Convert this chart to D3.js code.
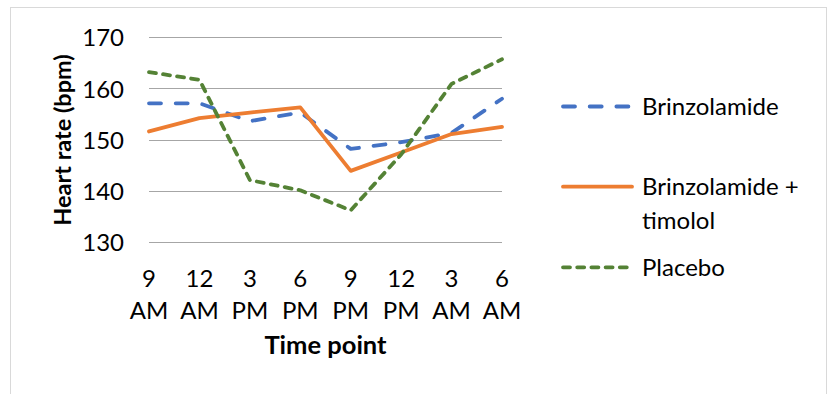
<!DOCTYPE html>
<html>
<head>
<meta charset="utf-8">
<script src="https://cdn.jsdelivr.net/npm/d3@7"></script>
<style>
  html, body { margin: 0; padding: 0; background: #fff; }
  svg { display: block; font-family: Lato, "Open Sans", sans-serif; }
</style>
</head>
<body>
<svg id="chart" width="832" height="394"></svg>
<script>
// Time points along the x axis (hour / period shown on two lines)
const timeHours   = ["9", "12", "3", "6", "9", "12", "3", "6"];
const timePeriods = ["AM", "AM", "PM", "PM", "PM", "PM", "AM", "AM"];
const categories  = timeHours.map((h, i) => h + " " + timePeriods[i]);

// Mean heart rate (bpm) per group
const brinzolamide = [157.1, 157.1, 153.6, 155.3, 148.2, 149.5, 151.3, 158.0];
const brinzTimolol = [151.6, 154.2, 155.3, 156.3, 143.9, 147.5, 151.1, 152.5];
const placebo      = [163.2, 161.7, 142.1, 140.1, 136.2, 147.1, 160.9, 165.7];

const yTicks = [130, 140, 150, 160, 170];

const seriesNames = ["Brinzolamide", "Brinzolamide + timolol", "Placebo"];

const labelSize = 24;

const svg = d3.select("#chart");

// Outer chart frame
svg.append("rect")
  .attr("x", 10.5).attr("y", 7.5)
  .attr("width", 816).attr("height", 400)
  .attr("fill", "none").attr("stroke", "#d9d9d9").attr("stroke-width", 1);

const x = d3.scalePoint().domain(categories).range([149, 502]).padding(0);
const y = d3.scaleLinear().domain([130, 170]).range([242, 37.3]);

// Horizontal gridlines
svg.append("g")
  .selectAll("line")
  .data(yTicks)
  .join("line")
  .attr("x1", 149).attr("x2", 502)
  .attr("y1", d => Math.round(y(d)) + 0.5)
  .attr("y2", d => Math.round(y(d)) + 0.5)
  .attr("stroke", "#a6a6a6").attr("stroke-width", 1);

// Y axis tick labels
const yAxis = d3.axisLeft(y).tickValues(yTicks).tickSize(0).tickPadding(25);
const gy = svg.append("g").attr("transform", "translate(149,0)").call(yAxis);
gy.select(".domain").remove();
gy.selectAll("text")
  .attr("font-family", "Lato, sans-serif")
  .attr("font-size", labelSize)
  .attr("fill", "#000")
  .attr("dy", "0.36em");

// X axis labels (two lines each)
const gx = svg.append("g");
gx.selectAll("text.hour")
  .data(categories)
  .join("text")
  .attr("class", "hour")
  .attr("x", d => x(d))
  .attr("y", 286.5)
  .attr("text-anchor", "middle")
  .attr("font-size", labelSize)
  .attr("fill", "#000")
  .text((d, i) => timeHours[i]);
gx.selectAll("text.period")
  .data(categories)
  .join("text")
  .attr("class", "period")
  .attr("x", d => x(d))
  .attr("y", 318.5)
  .attr("text-anchor", "middle")
  .attr("font-size", labelSize)
  .attr("fill", "#000")
  .text((d, i) => timePeriods[i]);

// Axis titles
svg.append("text")
  .attr("x", 325.5).attr("y", 354)
  .attr("text-anchor", "middle")
  .attr("font-size", 25.5).attr("font-weight", "bold")
  .attr("fill", "#000")
  .text("Time point");

svg.append("text")
  .attr("transform", "translate(71,140) rotate(-90)")
  .attr("text-anchor", "middle")
  .attr("font-size", 23.5).attr("font-weight", "bold")
  .attr("fill", "#000")
  .text("Heart rate (bpm)");

// Series styles
const styles = [
  { values: brinzolamide, color: "#4472C4", dash: "12,14.7" },
  { values: brinzTimolol, color: "#ED7D31", dash: null },
  { values: placebo,      color: "#548235", dash: "7,7.2" }
];

const line = d3.line()
  .x((d, i) => x(categories[i]))
  .y(d => y(d));

svg.append("g")
  .selectAll("path")
  .data(styles)
  .join("path")
  .attr("d", d => line(d.values))
  .attr("fill", "none")
  .attr("stroke", d => d.color)
  .attr("stroke-width", 3.8)
  .attr("stroke-linejoin", "round")
  .attr("stroke-linecap", "round")
  .attr("stroke-dasharray", d => d.dash);

// Legend
const legendRows = [
  { y: 106.5, lines: ["Brinzolamide"] },
  { y: 186.7, lines: ["Brinzolamide +", "timolol"] },
  { y: 267.3, lines: ["Placebo"] }
];

const lg = svg.append("g");
legendRows.forEach((row, i) => {
  const s = styles[i];
  lg.append("line")
    .attr("x1", 563).attr("x2", 632)
    .attr("y1", row.y).attr("y2", row.y)
    .attr("stroke", s.color)
    .attr("stroke-width", 3.8)
    .attr("stroke-linecap", "round")
    .attr("stroke-dasharray", s.dash);
  row.lines.forEach((t, j) => {
    lg.append("text")
      .attr("x", 642)
      .attr("y", row.y + j * 33.5)
      .attr("dy", "0.36em")
      .attr("font-size", labelSize)
      .attr("fill", "#000")
      .text(t);
  });
});
</script>
</body>
</html>
